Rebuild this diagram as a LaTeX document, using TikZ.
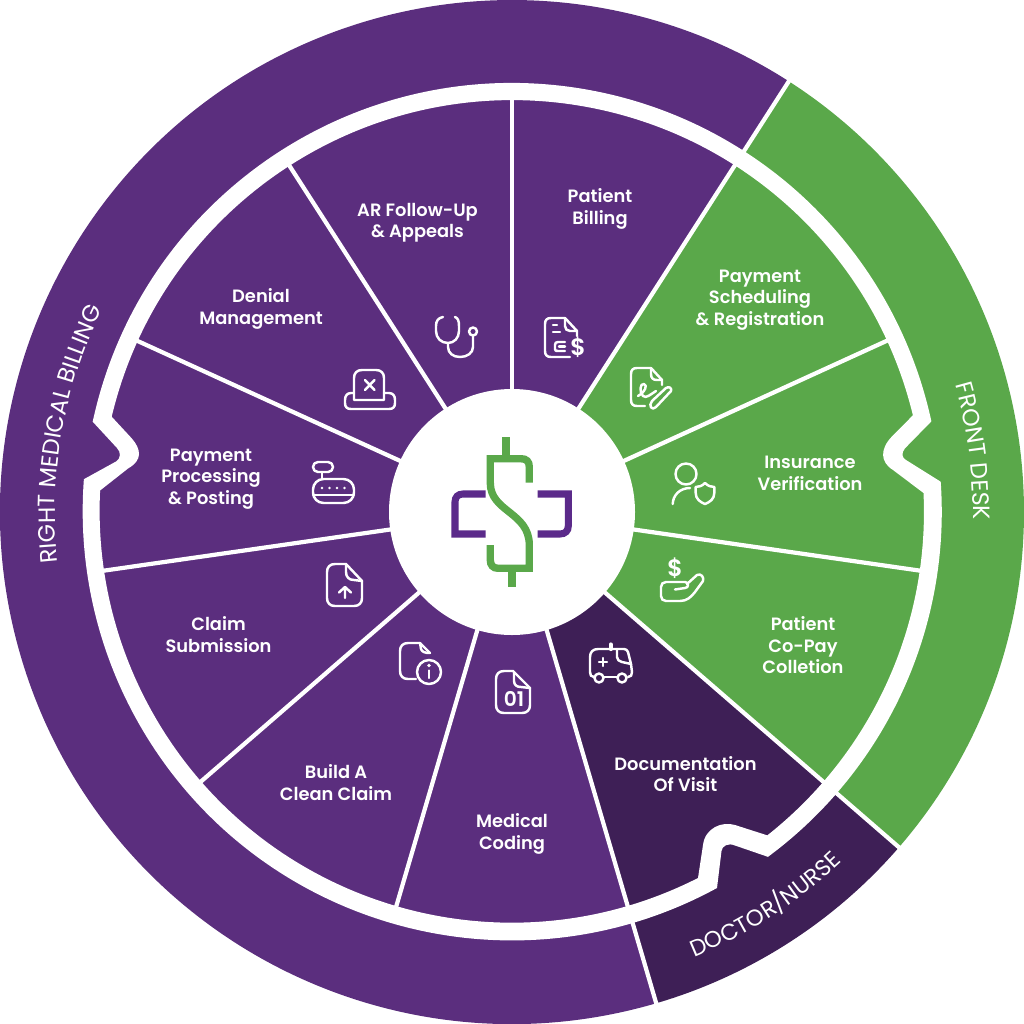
\documentclass[tikz,border=0pt]{standalone}
\usepackage{fontspec}
\setmainfont{Poppins}[BoldFont={Poppins SemiBold}]
\usetikzlibrary{decorations.text}
\definecolor{mbpurple}{HTML}{5B2E7E}
\definecolor{mbdark}{HTML}{3E1F56}
\definecolor{mbgreen}{HTML}{5AA84A}
\definecolor{logopurple}{HTML}{5B2A8A}
\newcommand{\bandfont}{\fontsize{13.4}{15}\selectfont}
\newcommand{\bandfontb}{\fontsize{13}{15}\selectfont}
\tikzset{
  lab/.style={text=white,align=center,inner sep=0pt,font=\fontsize{10.15}{12.2}\selectfont\bfseries},
  ico/.style={draw=white,line width=1.4pt,line cap=round,line join=round},
  spoke/.style={draw=white,line width=2.4pt},
  logoS/.style={draw=mbgreen,line width=4.2pt},
  logoC/.style={draw=logopurple,line width=4pt},
  bandtext/.style={decorate,decoration={text along path,text align=center,text color=white,text={|\bandfont|#1}}},
  bandtextb/.style={decorate,decoration={text along path,text align=center,text color=white,text={|\bandfontb|#1}}},
  at center/.style={shift={(512,512)}}
}
\begin{document}
\begin{tikzpicture}[x=0.02cm,y=0.02cm,yscale=-1]
\useasboundingbox (0,0) rectangle (1024,1024);
% wedges
\fill[mbgreen] (512,512) -- ([at center]-57.27:512) arc[start angle=-57.27,end angle=40.91,radius=512] -- cycle;
\fill[mbdark] (512,512) -- ([at center]40.91:512) arc[start angle=40.91,end angle=73.64,radius=512] -- cycle;
\fill[mbpurple] (512,512) -- ([at center]73.64:512) arc[start angle=73.64,end angle=302.73,radius=512] -- cycle;
% long separators
\foreach \a in {-57.27,40.91,73.64}
  \draw[spoke] ([at center]\a:120) -- ([at center]\a:514);
% white ring with notches
\fill[white,even odd rule]
  (940.7,481.7) arc[start angle=-4.05,end angle=53.5,radius=429]
  -- (735,845.5) .. controls (728,842.5) and (722,846) .. (721.5,851) -- (717,888)
  arc[start angle=61.4,end angle=184.3,radius=429]
  -- (116,461.5) .. controls (121,458.5) and (121,452) .. (117,448) -- (92.7,421.7)
  arc[start angle=192.15,end angle=347.8,radius=429]
  -- (905,448.3) .. controls (901,453) and (902,458) .. (906,460) -- cycle
  (923.5,493) arc[start angle=-2.65,end angle=51.7,radius=412]
  -- (735,825) .. controls (722,821) and (705,828) .. (703,845) -- (698,878)
  arc[start angle=63.1,end angle=182.8,radius=412]
  -- (128.3,468.3) .. controls (143,460) and (141,449) .. (131.7,438.3) -- (111.7,416.7)
  arc[start angle=193.4,end angle=346.4,radius=412]
  -- (891.7,436.7) .. controls (880,449) and (880,462) .. (893,470) -- cycle;
% short spokes
\foreach \a in {-90,-24.55,8.18,106.36,139.09,171.82,204.55,237.27}
  \draw[spoke] ([at center]\a:120) -- ([at center]\a:414);
% centre
\fill[white] (512,512) circle[radius=123];
% logo
\draw[logoC] (485.7,494) -- (463,494) .. controls (458,494) and (455,497) .. (455,502) -- (455,534) -- (485.7,534);
\draw[logoC] (537.7,494) -- (568.3,494) -- (568.3,526) .. controls (568.3,531) and (565,534) .. (560,534) -- (537.7,534);
\draw[draw=mbgreen,line width=4.4pt] (506.3,437) -- (506.3,456);
\draw[draw=mbgreen,line width=4.4pt] (512,570) -- (512,587.3);
\draw[logoS] (529.3,482.7) -- (529.3,467) .. controls (529.3,461.5) and (526.5,458.7) .. (521,458.7) -- (490.3,458.7) -- (490.3,483)
  .. controls (490.3,512) and (529.3,512) .. (529.3,545) -- (529.3,568.3) -- (498,568.3) .. controls (493,568.3) and (490.3,565) .. (490.3,560) -- (490.3,545);
% labels
\node[lab] (l1) at (600,209) {Patient\\Billing};
\node[lab] (l2) at (417.5,222.5) {AR Follow-Up\\\& Appeals};
\node[lab] (l3) at (760,300) {Payment\\Scheduling\\\& Registration};
\node[lab] (l4) at (810,473.5) {Insurance\\Verification};
\node[lab] (l5) at (803,645.5) {Patient\\Co-Pay\\Colletion};
\node[lab] (l6) at (685.5,774) {Documentation\\Of Visit};
\node[lab] (l7) at (512,834) {Medical\\Coding};
\node[lab] (l8) at (336,782.5) {Build A\\Clean Claim};
\node[lab] (l9) at (218.5,634.5) {Claim\\Submission};
\node[lab] (l10) at (211,479) {Payment\\Processing\\\& Posting};
\node[lab] (l11) at (261,309) {Denial\\Management};
% band texts
\begin{scope}[yscale=-1]
\path[bandtext={RIGHT MEDICAL BILLING}] ([shift={(512,-512)}]194:457) arc[start angle=194,end angle=146,radius=457];
\path[bandtext={FRONT DESK}] ([shift={(512,-512)}]21:461) arc[start angle=21,end angle=-6,radius=461];
\path[bandtextb={DOCTOR/NURSE}] ([shift={(512,-512)}]-72.7:481) arc[start angle=-72.7,end angle=-41.7,radius=481];
\end{scope}
% icon: bill
\draw[ico] (565,318) -- (551,318) .. controls (547,318) and (545,320) .. (545,324) -- (545,351) .. controls (545,355) and (547,357) .. (551,357) -- (570,357);
\draw[ico] (565,318) -- (577,331) -- (577,336);
\draw[ico] (565,318) -- (565,326) .. controls (565,329) and (567,331) .. (570,331) -- (577,331);
\draw[ico] (553,325) -- (557,325) (553,332) -- (560,332);
\draw[ico] (565,342) -- (558,342) .. controls (556,342) and (555,343) .. (555,345) -- (555,349) .. controls (555,351) and (556,351) .. (558,351) -- (565,351);
\draw[ico] (559,346.5) -- (565,346.5);
\node[text=white,inner sep=0pt,font=\fontsize{13.5}{13}\selectfont\bfseries] (i1) at (578,347) {\$};
% icon: signature
\draw[ico] (651,368) -- (637,368) .. controls (633,368) and (631,370) .. (631,374) -- (631,400) .. controls (631,404) and (633,406) .. (637,406) -- (645,406);
\draw[ico] (651,368) -- (662,380) -- (662,385);
\draw[ico] (651,368) -- (651,374) .. controls (651,378) and (653,380) .. (657,380) -- (662,380);
\draw[ico] (638,396) .. controls (645,392) and (648,385) .. (644,384) .. controls (640,383) and (639,392) .. (643,396) .. controls (646,399) and (651,394) .. (656,391);
\draw[ico] (652,401) -- (666,388) .. controls (669,386) and (672,388) .. (671,391) -- (656,407) .. controls (652,411) and (648,406) .. (652,401);
% icon: stethoscope
\draw[ico] (443,317) .. controls (438,318) and (436,321) .. (436,326) -- (436,331) .. controls (436,338) and (441,343) .. (448,343) .. controls (454,343) and (459,338) .. (459,331) -- (459,326) .. controls (459,321) and (458,318) .. (455,317);
\draw[ico] (448,343) -- (448,347) .. controls (448,353) and (453,357) .. (460,357) .. controls (467,357) and (473,353) .. (473,347) -- (473,336);
\draw[ico] (473,331.5) circle[radius=4];
% icon: x printer
\draw[ico] (354,400) -- (354,378) .. controls (354,373) and (357,370) .. (362,370) -- (376,370) .. controls (381,370) and (384,373) .. (384,378) -- (384,400) -- cycle;
\draw[ico] (354,393) -- (351,393) .. controls (347,393) and (345,396) .. (345,400) -- (345,403) .. controls (345,407) and (347,409) .. (351,409) -- (389,409) .. controls (393,409) and (395,407) .. (395,403) -- (395,400) .. controls (395,396) and (393,393) .. (389,393) -- (384,393);
\draw[ico] (365,380) -- (374.5,390) (374.5,380) -- (365,390);
% icon: modem
\draw[ico,rounded corners=6pt] (313,479) rectangle (354,503);
\draw[ico] (313,495) -- (354,495);
\draw[ico] (322,472) -- (322,479);
\draw[ico,rounded corners=2.8pt] (313,462) rectangle (333,472);
\foreach \x in {322,329.5,337,344.5} \fill[white] (\x,488) circle[radius=1.4];
% icon: upload doc
\draw[ico] (346,564) -- (335,564) .. controls (330,564) and (327,567) .. (327,572) -- (327,598) .. controls (327,603) and (330,606) .. (335,606) -- (354,606) .. controls (359,606) and (362,603) .. (362,598) -- (362,581) -- cycle;
\draw[ico] (346,564) -- (346,572) .. controls (346,577) and (349,580) .. (354,580) -- (362,581);
\draw[ico] (345,598) -- (345,587) (339,592.5) -- (345,587) -- (351,592.5);
% icon: info doc
\draw[ico] (420,643) -- (408,643) .. controls (403,643) and (400,646) .. (400,651) -- (400,671) .. controls (400,676) and (403,679) .. (408,679) -- (416,679);
\draw[ico] (420,643) -- (430,653);
\draw[ico] (420,643) -- (421,649) .. controls (422,652) and (425,653) .. (430,653);
\draw[ico] (429,672) circle[radius=12];
\fill[white] (429,665.5) circle[radius=1.8];
\draw[ico] (429,670.5) -- (429,678);
% icon: 01 doc
\draw[ico] (513,671) -- (504,671) .. controls (499,671) and (496,674) .. (496,679) -- (496,705) .. controls (496,710) and (499,713) .. (504,713) -- (522,713) .. controls (527,713) and (530,710) .. (530,705) -- (530,688) -- cycle;
\draw[ico] (514,672) -- (514,681) .. controls (514,685) and (517,687) .. (521,687) -- (530,688);
\node[text=white,inner sep=0pt,font=\fontsize{11.5}{12}\selectfont\bfseries] (i8) at (514,699) {01};
% icon: ambulance
\draw[ico] (594,677) .. controls (591,677) and (590,675) .. (590,672) -- (590,657) .. controls (590,652) and (593,649) .. (598,649) -- (624,649) .. controls (626,649) and (627,650) .. (628,652) -- (631,664) -- (632,672) .. controls (632,675) and (631,677) .. (628,677);
\draw[ico] (604,677) -- (617,677);
\draw[ico] (617,649) -- (617,657) .. controls (617,660) and (619,661) .. (622,662) -- (631,664);
\draw[ico,line width=2.4pt] (610.7,644.5) -- (610.7,649);
\draw[ico] (603,658) -- (603,666) (599,662) -- (607,662);
\draw[ico] (599,678) circle[radius=4.5];
\draw[ico] (622,678) circle[radius=4.5];
% icon: person shield
\draw[ico] (686,474) circle[radius=10.5];
\draw[ico] (672.7,504) .. controls (673,495) and (680,488) .. (690,488);
\draw[ico] (705,483) .. controls (702,486) and (699,487) .. (695.7,487) -- (695.7,493) .. controls (695.7,499) and (700,502) .. (705,504) .. controls (710,502) and (714.3,499) .. (714.3,493) -- (714.3,487) .. controls (711,487) and (708,486) .. (705,483) -- cycle;
% icon: hand
\node[text=white,inner sep=0pt,font=\fontsize{13.5}{13}\selectfont\bfseries] (i11) at (675,568) {\$};
\draw[ico] (677,582) -- (666,582) .. controls (663,582) and (661,584) .. (661,587) -- (661,596) .. controls (661,599) and (663,601) .. (666,601) -- (680,601) .. controls (687,601) and (691,597) .. (695,592) -- (703,581) .. controls (704,577) and (701,573) .. (697,575) -- (687,584);
\draw[ico] (677,582) -- (685,582) .. controls (689,582) and (689,588) .. (685,588) -- (675,589.5);
\end{tikzpicture}
\end{document}
